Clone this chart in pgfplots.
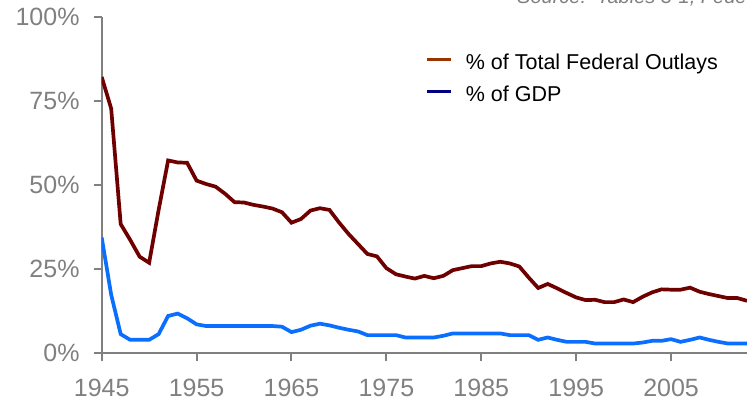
\documentclass[border=0pt]{standalone}
\usepackage{pgfplots}
\pgfplotsset{compat=1.18}
\usepackage{pgfplotstable}
\usepackage{fontspec}
\setmainfont{Liberation Sans}
\definecolor{outl}{HTML}{6E0000}
\definecolor{gdpc}{HTML}{0A6EFF}
\definecolor{legred}{HTML}{993300}
\definecolor{legnavy}{HTML}{000080}
\definecolor{axgray}{HTML}{808080}
\pgfplotstableread{
year outlays gdp
1945 82.1 34.4
1946 72.7 17.4
1947 38.4 5.7
1948 33.7 4.0
1949 28.7 4.0
1950 26.9 4.0
1951 42.6 5.7
1952 57.3 11.1
1953 56.7 11.8
1954 56.6 10.4
1955 51.3 8.6
1956 50.3 8.1
1957 49.5 8.1
1958 47.4 8.1
1959 44.9 8.1
1960 44.8 8.1
1961 44.1 8.1
1962 43.6 8.1
1963 43.0 8.1
1964 41.9 7.9
1965 38.8 6.3
1966 39.9 7.0
1967 42.4 8.2
1968 43.1 8.8
1969 42.6 8.3
1970 38.9 7.6
1971 35.5 7.0
1972 32.5 6.5
1973 29.5 5.4
1974 28.8 5.4
1975 25.3 5.4
1976 23.5 5.4
1977 22.8 4.7
1978 22.2 4.7
1979 23.0 4.7
1980 22.3 4.7
1981 23.0 5.2
1982 24.7 5.9
1983 25.3 5.9
1984 25.9 5.9
1985 25.9 5.9
1986 26.7 5.9
1987 27.2 5.9
1988 26.7 5.4
1989 25.8 5.4
1990 22.5 5.4
1991 19.4 4.0
1992 20.6 4.7
1993 19.3 4.0
1994 17.9 3.4
1995 16.6 3.4
1996 15.8 3.4
1997 15.9 2.9
1998 15.2 2.9
1999 15.2 2.9
2000 16.0 2.9
2001 15.2 2.9
2002 16.8 3.2
2003 18.1 3.7
2004 19.0 3.7
2005 18.9 4.2
2006 18.9 3.4
2007 19.5 4.0
2008 18.3 4.7
2009 17.6 4.0
2010 17.0 3.4
2011 16.4 2.9
2012 16.4 2.9
2013 15.6 2.9
}\datatable
\begin{document}
\begin{tikzpicture}
\path[use as bounding box] (0,0) rectangle (747bp,402bp);
\clip (0,0) rectangle (747bp,402bp);
\begin{axis}[
  at={(101.7bp,48.7bp)}, anchor=south west,
  scale only axis, width=645.3bp, height=336.6bp,
  xmin=1945, xmax=2013, ymin=0, ymax=100,
  axis x line*=bottom, axis y line*=left,
  axis line style={axgray, line width=2bp, -},
  tick align=outside, major tick length=8bp,
  tick style={axgray, line width=2bp},
  xtick={1945,1955,...,2005},
  ytick={0,25,50,75,100},
  yticklabel={\pgfmathprintnumber{\tick}\%},
  /pgf/number format/assume math mode=true,
  /pgf/number format/1000 sep={},
  ticklabel style={font=\fontsize{25bp}{29bp}\selectfont, text=axgray},
  yticklabel style={inner sep=0pt, xshift=-14bp},
  xticklabel style={inner sep=0pt, yshift=-18bp},
  legend style={at={(axis description cs:0.502,0.906)}, anchor=north west,
    draw=none, fill=none, inner sep=0pt, column sep=13bp,
    font=\fontsize{21.5bp}{24bp}\selectfont,
    nodes={inner sep=0pt, text height=21.4bp, text depth=10.6bp}},
  legend cell align=left,
  legend image code/.code={\draw[#1, line width=3bp] (0bp,5bp) -- (24bp,5bp);},
]
\addlegendimage{legred}
\addlegendentry{\% of Total Federal Outlays}
\addlegendimage{legnavy}
\addlegendentry{\% of GDP}
\addplot[outl, line width=3.7bp, forget plot] table[x=year, y=outlays] {\datatable};
\addplot[gdpc, line width=3.7bp, forget plot] table[x=year, y=gdp] {\datatable};
\end{axis}
\node[anchor=base west, inner sep=0pt, text=axgray, font=\fontsize{20bp}{24bp}\selectfont\itshape] at (517bp,398bp) {Source:\ \ Tables 3-1, Federal Budget};
\end{tikzpicture}
\end{document}
